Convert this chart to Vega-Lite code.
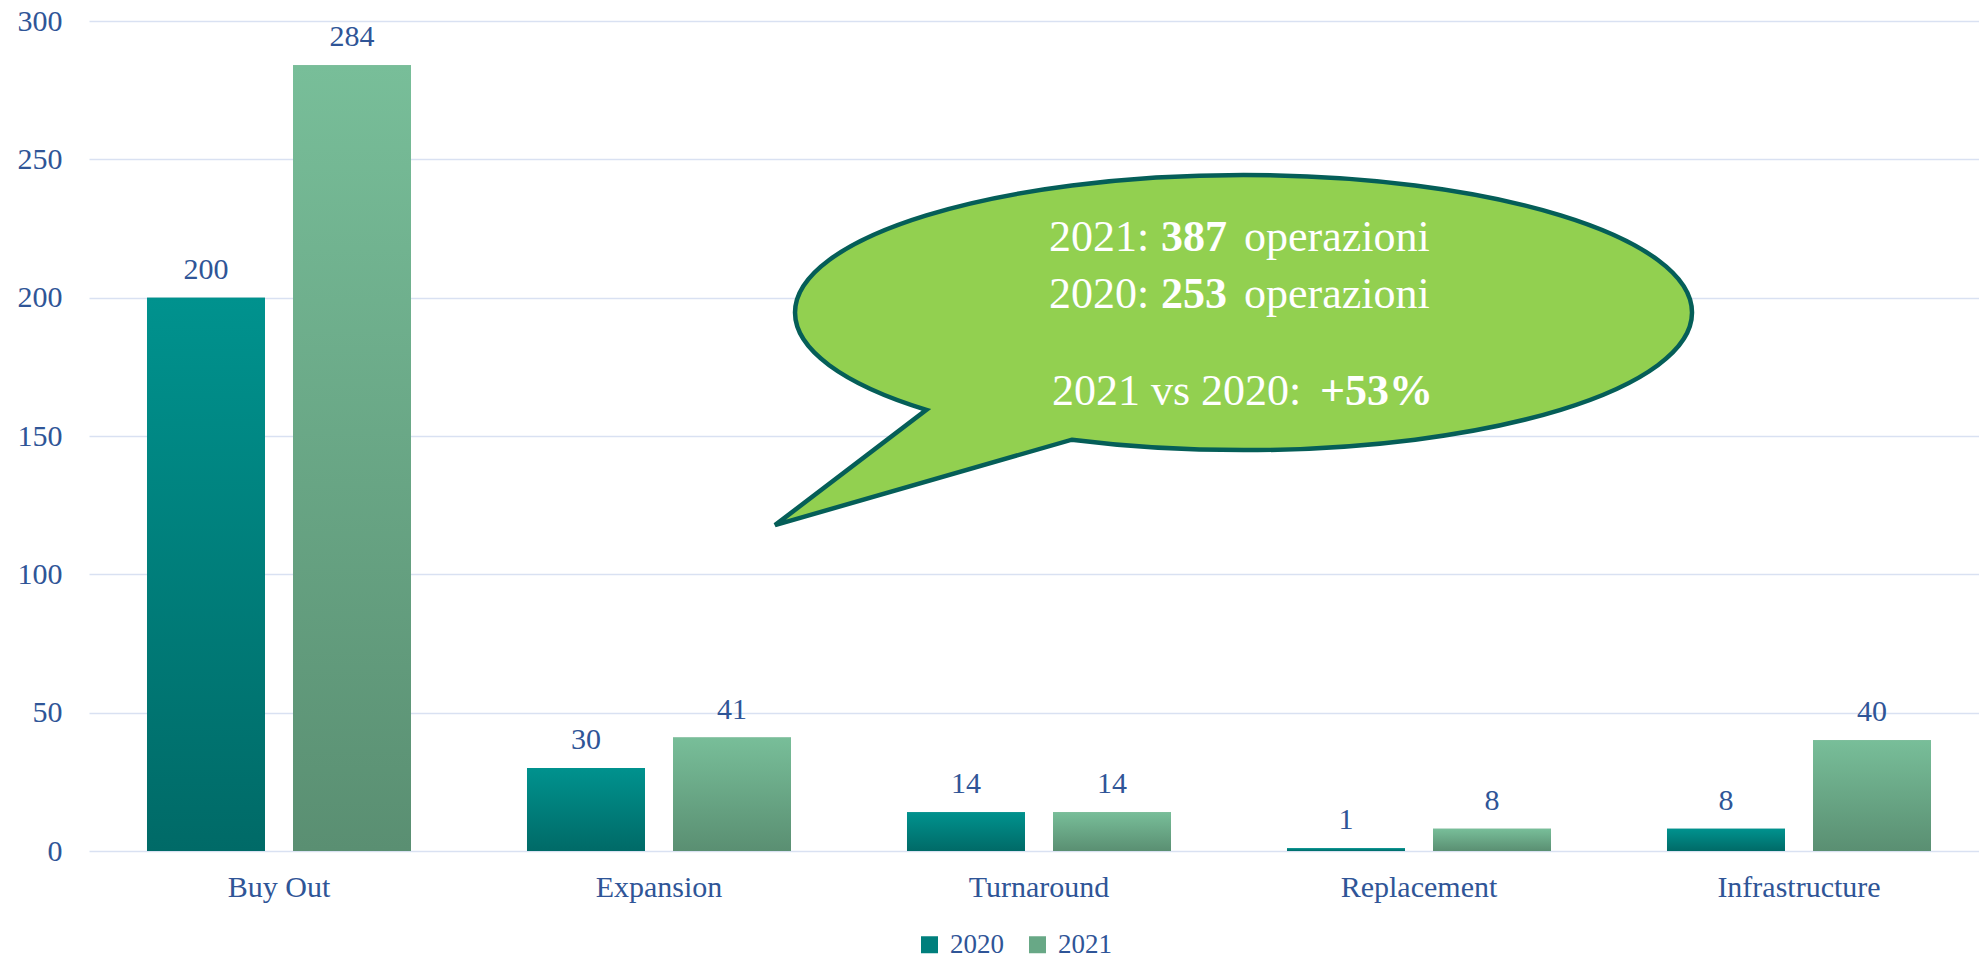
{
  "$schema": "https://vega.github.io/schema/vega-lite/v6.json",
  "width": 1890,
  "height": 830,
  "autosize": {"type": "none"},
  "padding": {"left": 89, "top": 21, "right": 0, "bottom": 110},
  "background": "white",
  "config": {
    "view": {"stroke": null},
    "font": "Liberation Serif",
    "axis": {
      "labelFont": "Liberation Serif",
      "labelFontSize": 30,
      "labelColor": "#2F5597",
      "domain": false,
      "ticks": false
    },
    "axisY": {"grid": true, "gridColor": "#D9E1F2", "gridWidth": 1.6, "labelPadding": 27},
    "axisX": {"grid": false, "labelPadding": 21}
  },
  "datasets": {
    "bars": [
      {"category": "Buy Out", "year": "2020", "value": 200},
      {"category": "Buy Out", "year": "2021", "value": 284},
      {"category": "Expansion", "year": "2020", "value": 30},
      {"category": "Expansion", "year": "2021", "value": 41},
      {"category": "Turnaround", "year": "2020", "value": 14},
      {"category": "Turnaround", "year": "2021", "value": 14},
      {"category": "Replacement", "year": "2020", "value": 1},
      {"category": "Replacement", "year": "2021", "value": 8},
      {"category": "Infrastructure", "year": "2020", "value": 8},
      {"category": "Infrastructure", "year": "2021", "value": 40}
    ],
    "callout": [{"cx": 3.0382, "cy": 194.6}],
    "calloutText": [
      {"text": "2021:", "px": 2.5263, "py": 217.0},
      {"text": "operazioni", "px": 3.0395, "py": 217.0},
      {"text": "2020:", "px": 2.5263, "py": 196.3},
      {"text": "operazioni", "px": 3.0395, "py": 196.3},
      {"text": "2021 vs 2020:", "px": 2.5342, "py": 161.2}
    ],
    "calloutBold": [
      {"text": "387", "px": 2.8211, "py": 217.0},
      {"text": "253", "px": 2.8211, "py": 196.3},
      {"text": "+53%", "px": 3.2395, "py": 161.2}
    ]
  },
  "layer": [
    {
      "layer": [
        {
          "data": {"name": "bars"},
          "mark": {"type": "bar"},
          "encoding": {
            "x": {
              "field": "category", "type": "nominal",
              "sort": ["Buy Out", "Expansion", "Turnaround", "Replacement", "Infrastructure"],
              "scale": {"range": [0, 1900], "paddingInner": 0.30526, "paddingOuter": 0.15263},
              "axis": {"title": null, "labelAngle": 0}
            },
            "xOffset": {"field": "year", "type": "nominal", "scale": {"paddingInner": 0.19178, "paddingOuter": 0}},
            "y": {
              "field": "value", "type": "quantitative",
              "scale": {"domain": [0, 300], "nice": false},
              "axis": {"title": null, "values": [0, 50, 100, 150, 200, 250, 300]}
            },
            "color": {
              "field": "year", "type": "nominal",
              "scale": {"domain": ["2020", "2021"], "range": ["#007F7C", "#68A886"]},
              "legend": {
                "orient": "none", "legendX": 827, "legendY": 910, "direction": "horizontal",
                "title": null, "symbolType": "square", "symbolSize": 289, "symbolStrokeWidth": 0,
                "labelFont": "Liberation Serif", "labelFontSize": 27, "labelColor": "#2F5597",
                "labelOffset": 7, "columnPadding": 20, "padding": 0,
                "encode": {
                  "symbols": {
                    "update": {
                      "fill": [
                        {"test": "datum.value === '2020'", "value": {"gradient": "linear", "x1": 0, "y1": 0, "x2": 0, "y2": 1, "stops": [{"offset": 0, "color": "#00928E"}, {"offset": 1, "color": "#006A67"}]}},
                        {"value": {"gradient": "linear", "x1": 0, "y1": 0, "x2": 0, "y2": 1, "stops": [{"offset": 0, "color": "#78BE99"}, {"offset": 1, "color": "#5A8F72"}]}}
                      ]
                    }
                  }
                }
              }
            }
          }
        },
        {
          "data": {"name": "bars"},
          "mark": {"type": "bar"},
          "encoding": {
            "x": {"field": "category", "type": "nominal", "sort": ["Buy Out", "Expansion", "Turnaround", "Replacement", "Infrastructure"]},
            "xOffset": {"field": "year", "type": "nominal"},
            "y": {"field": "value", "type": "quantitative", "title": null},
            "fill": {
              "condition": {"test": "datum.year === '2020'", "value": {"gradient": "linear", "x1": 0, "y1": 0, "x2": 0, "y2": 1, "stops": [{"offset": 0, "color": "#00928E"}, {"offset": 1, "color": "#006A67"}]}},
              "value": {"gradient": "linear", "x1": 0, "y1": 0, "x2": 0, "y2": 1, "stops": [{"offset": 0, "color": "#78BE99"}, {"offset": 1, "color": "#5A8F72"}]}
            }
          }
        },
        {
          "data": {"name": "bars"},
          "mark": {"type": "text", "baseline": "alphabetic", "align": "center", "dy": -19, "fontSize": 30, "font": "Liberation Serif", "color": "#2F5597"},
          "encoding": {
            "x": {"field": "category", "type": "nominal", "sort": ["Buy Out", "Expansion", "Turnaround", "Replacement", "Infrastructure"]},
            "xOffset": {"field": "year", "type": "nominal"},
            "y": {"field": "value", "type": "quantitative", "title": null},
            "text": {"field": "value", "type": "quantitative"}
          }
        }
      ]
    },
    {
      "layer": [
        {
          "data": {"name": "callout"},
          "mark": {
            "type": "point",
            "shape": "M -0.3827 0.2833 C -0.2614 0.2987 -0.1313 0.3066 0 0.3066 C 0.2652 0.3066 0.5196 0.2743 0.7071 0.2168 C 0.8946 0.1593 1 0.0813 1 0 C 1 -0.0813 0.8946 -0.1593 0.7071 -0.2168 C 0.5196 -0.2743 0.2652 -0.3066 0 -0.3066 C -0.2652 -0.3066 -0.5196 -0.2743 -0.7071 -0.2168 C -0.8946 -0.1593 -1 -0.0813 -1 0 C -1 0.0813 -0.8946 0.1593 -0.7071 0.2168 L -1.0446 0.4738 Z",
            "size": 804609,
            "filled": true,
            "fill": "#92D050",
            "stroke": "#055E58",
            "strokeWidth": 4.5,
            "strokeJoin": "miter",
            "opacity": 1
          },
          "encoding": {
            "x": {"field": "cx", "type": "quantitative", "scale": {"domain": [0, 5], "range": [0, 1900], "nice": false, "zero": false}, "axis": null},
            "y": {"field": "cy", "type": "quantitative", "title": null}
          }
        },
        {
          "data": {"name": "calloutText"},
          "mark": {"type": "text", "align": "left", "baseline": "alphabetic", "fontSize": 44, "font": "Liberation Serif", "color": "white"},
          "encoding": {
            "x": {"field": "px", "type": "quantitative"},
            "y": {"field": "py", "type": "quantitative", "title": null},
            "text": {"field": "text", "type": "nominal"}
          }
        },
        {
          "data": {"name": "calloutBold"},
          "mark": {"type": "text", "align": "left", "baseline": "alphabetic", "fontSize": 44, "fontWeight": "bold", "font": "Liberation Serif", "color": "white"},
          "encoding": {
            "x": {"field": "px", "type": "quantitative"},
            "y": {"field": "py", "type": "quantitative", "title": null},
            "text": {"field": "text", "type": "nominal"}
          }
        }
      ]
    }
  ],
  "resolve": {"scale": {"x": "independent"}}
}
